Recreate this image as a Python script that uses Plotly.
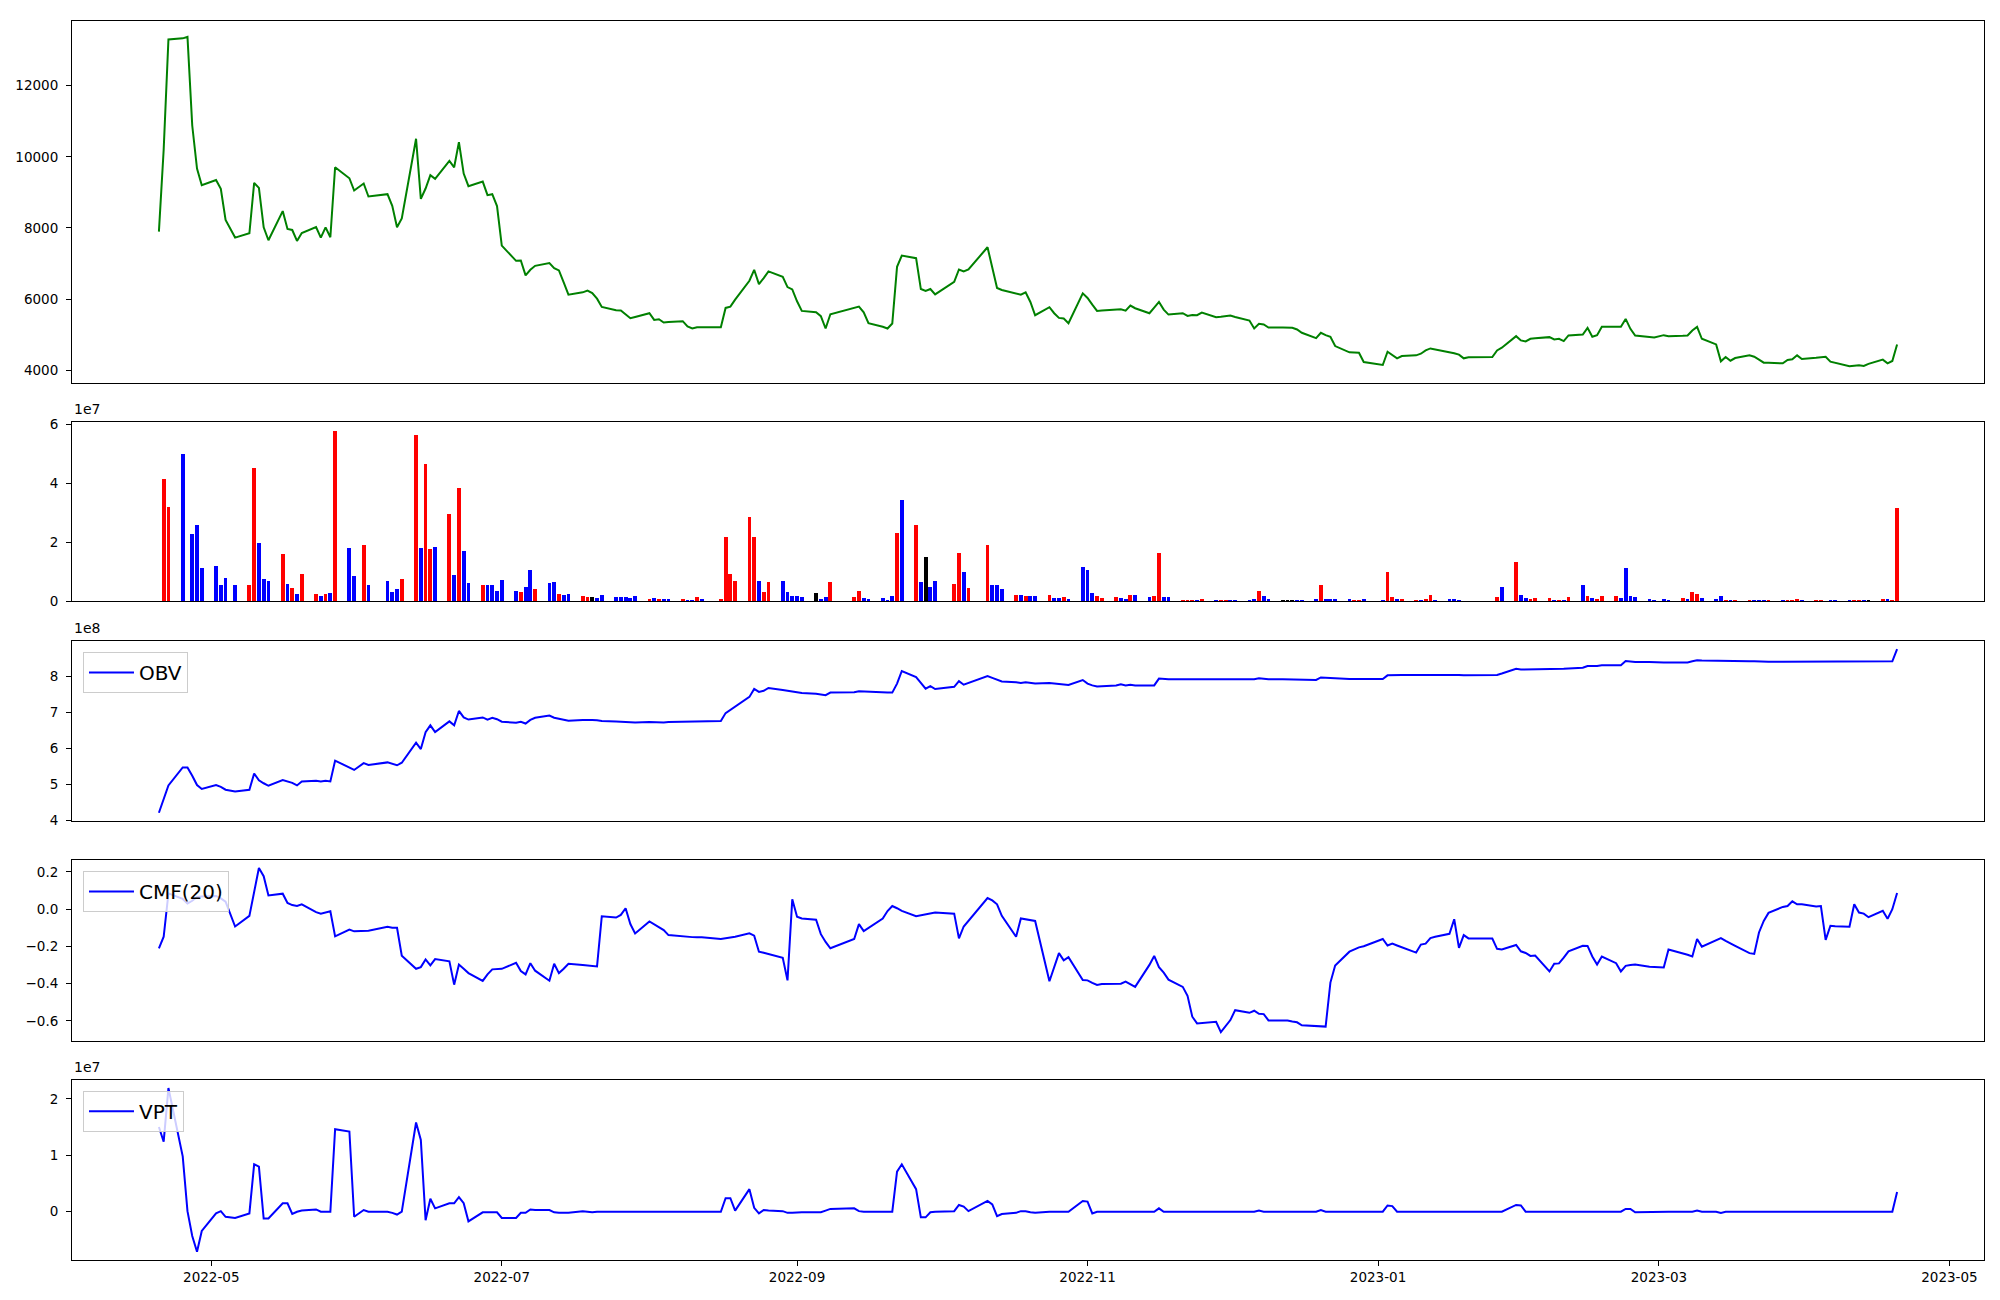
import pandas as pd
import plotly.graph_objects as go
from plotly.subplots import make_subplots

# ---------------- data ----------------
holidays = ["2022-05-05", "2022-06-01", "2022-06-06", "2022-08-15", "2022-09-09", "2022-09-12",
            "2022-10-03", "2022-10-10", "2022-12-30", "2023-01-23", "2023-01-24", "2023-03-01"]
dates = [d for d in pd.bdate_range("2022-04-20", "2023-04-20") if d.strftime("%Y-%m-%d") not in holidays]

close = [
    7897, 10200, 13300, 13330, 13370, 10880, 9670, 9200,
    9350, 9100, 8224, 7730, 7850, 9268, 9128, 8019, 7655, 8475, 7972, 7944, 7636, 7860, 8028, 7730, 8019, 7739, 9706, 9398, 9054,
    9250, 8886, 8951, 8625, 8019, 8270, 10508, 8820, 9110, 9483, 9380, 9884, 9706, 10415, 9529, 9175, 9305, 8923, 8951, 8615,
    7506, 7077, 7086, 6667, 6825, 6937, 7012, 6872, 6806, 6470, 6126, 6191, 6238, 6172, 6014, 5781, 5688, 5679, 5570, 5464, 5500,
    5604, 5417, 5436, 5343, 5360, 5380, 5231, 5175, 5212, 5212, 5212, 5753, 5790, 5986, 6517, 6825, 6424, 6592, 6779, 6629, 6340, 6275,
    5939, 5669, 5632, 5520, 5175, 5576, 5753, 5790, 5632, 5324, 5222, 5175, 5315, 6909, 7226, 7152, 6284, 6228, 6284, 6135,
    6489, 6834, 6779, 6834, 7459, 6890, 6312, 6256, 6144, 6126, 6191, 5921, 5548, 5772, 5604, 5473, 5455, 5324, 6163,
    6033, 5846, 5669, 5678, 5697, 5716, 5678, 5818, 5744, 5604, 5762, 5921, 5706, 5566, 5604, 5529, 5557, 5548, 5622, 5492, 5505, 5520,
    5539, 5500, 5399, 5175, 5306, 5287, 5203, 5200, 5194, 5194, 5147, 5054, 4904, 5054, 4990, 4942, 4681, 4504, 4500, 4494, 4233,
    4149, 4522, 4430, 4336, 4401, 4420, 4466, 4560, 4615, 4590, 4520, 4480, 4440, 4336, 4364, 4373, 4559, 4634, 4960, 4839,
    4811, 4886, 4900, 4932, 4867, 4886, 4820, 4979, 5007, 5194, 4942, 4988, 5221, 5221, 5221, 5445, 5166, 4979, 4940, 4923,
    4988, 4960, 4970, 4979, 5119, 5221, 4886, 4727, 4252, 4373, 4270, 4345, 4420, 4382, 4300, 4214, 4210, 4196, 4289, 4308, 4420, 4317,
    4350, 4370, 4382, 4243, 4214, 4112, 4125, 4140, 4121, 4180, 4299, 4196, 4261, 4727,
]

# volume in units of 1e7
volume_e7 = [
    0, 4.14, 3.18, 4.98, 0, 2.28, 2.58, 1.11,
    1.18, 0.54, 0.78, 0.54, 0.54, 4.51, 1.98, 0.74, 0.68, 1.61, 0.58, 0.44, 0.24, 0.91, 0.24, 0.18, 0.24, 0.28, 5.78, 1.81, 0.84,
    1.91, 0.54, 0.68, 0.31, 0.41, 0.74, 5.64, 1.81, 4.64, 1.78, 1.84, 2.94, 0.88, 3.84, 1.71, 0.61, 0.54, 0.54, 0.54, 0.34,
    0.71, 0.34, 0.31, 0.48, 1.04, 0.41, 0.61, 0.64, 0.24, 0.21, 0.24, 0.18, 0.14, 0.14, 0.11, 0.21, 0.14, 0.14, 0.14, 0.11, 0.18,
    0.08, 0.11, 0.08, 0.08, 0.08, 0.08, 0.04, 0.04, 0.14, 0.08, 0.08, 2.18, 0.91, 0.68, 2.84, 2.18, 0.68, 0.31, 0.64, 0.68, 0.31, 0.18,
    0.18, 0.14, 0.28, 0.08, 0.14, 0.64, 0.14, 0.34, 0.11, 0.08, 0.11, 0.04, 0.18, 2.31, 3.41, 2.58, 0.64, 1.48, 0.48, 0.68,
    0.58, 1.64, 0.98, 0.44, 1.91, 0.54, 0.54, 0.41, 0.21, 0.21, 0.18, 0.18, 0.18, 0.21, 0.11, 0.11, 0.14, 0.08, 1.14,
    1.04, 0.28, 0.18, 0.11, 0.14, 0.11, 0.08, 0.21, 0.21, 0.14, 0.18, 1.64, 0.14, 0.14, 0.04, 0.04, 0.04, 0.04, 0.08, 0.04, 0.04, 0.04,
    0.04, 0.04, 0.04, 0.08, 0.34, 0.18, 0.08, 0.04, 0.04, 0.04, 0.04, 0.04, 0.08, 0.54, 0.08, 0.08, 0.08, 0.08, 0.04, 0.04, 0.08,
    0.04, 0.98, 0.14, 0.08, 0.08, 0.04, 0.04, 0.08, 0.21, 0.04, 0.08, 0.08, 0.04, 0, 0, 0, 0.14, 0.48, 1.31, 0.21,
    0.11, 0.08, 0.11, 0.11, 0.04, 0.04, 0.04, 0.14, 0.54, 0.18, 0.11, 0.08, 0.18, 0.18, 0.11, 1.11, 0.18, 0.14, 0.08, 0.04,
    0.08, 0.04, 0.11, 0.08, 0.31, 0.24, 0.11, 0.08, 0.18, 0.04, 0.04, 0.04, 0.04, 0.04, 0.04, 0.04, 0.04, 0.04, 0.04, 0.04, 0.08, 0.04,
    0.04, 0.04, 0, 0.04, 0.04, 0.04, 0.04, 0.04, 0.04, 0.04, 0.08, 0.08, 0.04, 3.14,
]

# bar direction: u = up, d = down, e = unchanged
volume_dir = (
    "e u u d e d d d "
    "d d d d u u d d d u d u d u u d u d u d d "
    "u d d d d u u d u u d u d u d d u d d d "
    "d d u d d u d d u d d u u e d d d d d d d "
    "u d u d d u d d u d u u u u u u d u u d d d "
    "d d e d d u u u d d d d d u d u d e d d "
    "u u d u u d d d u d u d d u d d u d d "
    "d d u u u d d u d d u u d d u u u d u d u u "
    "d d d d u d d e e e d d d u d d d d u u d "
    "d u u d u u d u u d d d d e e e u d u d "
    "d u u u d u d u d u d u u u d d d d d d "
    "d d u d u u d d d u d u u d d d u d u u u d "
    "u u e d d d u u d e u d u u"
).split()

# on-balance volume in units of 1e8
obv_e8 = [
    4.21, 4.59, 4.97, 5.47, 5.47, 5.24, 4.98, 4.87,
    4.98, 4.93, 4.85, 4.80, 4.85, 5.30, 5.11, 5.03, 4.96, 5.12, 5.08, 5.04, 4.97, 5.08, 5.10, 5.08, 5.10, 5.08, 5.66, 5.48, 5.40,
    5.59, 5.54, 5.61, 5.58, 5.53, 5.60, 6.16, 5.98, 6.45, 6.64, 6.45, 6.75, 6.64, 7.04, 6.86, 6.80, 6.86, 6.80, 6.85, 6.81,
    6.74, 6.71, 6.74, 6.69, 6.79, 6.85, 6.91, 6.85, 6.82, 6.80, 6.77, 6.79, 6.80, 6.79, 6.78, 6.76, 6.75, 6.74, 6.73, 6.72, 6.72,
    6.73, 6.72, 6.73, 6.72, 6.73, 6.74, 6.73, 6.73, 6.75, 6.74, 6.76, 6.98, 7.07, 7.18, 7.43, 7.65, 7.57, 7.60, 7.68, 7.62, 7.60, 7.58,
    7.55, 7.54, 7.52, 7.51, 7.48, 7.55, 7.56, 7.59, 7.58, 7.57, 7.56, 7.55, 7.55, 7.80, 8.15, 7.98, 7.82, 7.66, 7.73, 7.65,
    7.71, 7.87, 7.77, 7.82, 8.01, 7.96, 7.90, 7.86, 7.84, 7.82, 7.84, 7.82, 7.80, 7.82, 7.81, 7.80, 7.79, 7.76, 7.90,
    7.80, 7.75, 7.72, 7.73, 7.75, 7.78, 7.75, 7.77, 7.75, 7.75, 7.75, 7.94, 7.93, 7.92, 7.92, 7.92, 7.92, 7.92, 7.93, 7.92, 7.92, 7.92,
    7.92, 7.92, 7.91, 7.92, 7.95, 7.93, 7.92, 7.92, 7.92, 7.92, 7.91, 7.91, 7.90, 7.97, 7.96, 7.95, 7.94, 7.93, 7.93, 7.93, 7.93,
    7.93, 8.03, 8.04, 8.03, 8.04, 8.04, 8.04, 8.04, 8.06, 8.05, 8.05, 8.04, 8.04, 8.03, 8.03, 8.02, 8.04, 8.08, 8.21, 8.19,
    8.19, 8.20, 8.20, 8.20, 8.20, 8.21, 8.21, 8.22, 8.24, 8.29, 8.28, 8.29, 8.31, 8.31, 8.31, 8.43, 8.41, 8.40, 8.40, 8.39,
    8.39, 8.39, 8.39, 8.39, 8.42, 8.45, 8.44, 8.43, 8.42, 8.42, 8.42, 8.42, 8.42, 8.42, 8.41, 8.41, 8.41, 8.41, 8.41, 8.42, 8.43, 8.43,
    8.43, 8.43, 8.43, 8.42, 8.42, 8.42, 8.42, 8.42, 8.42, 8.42, 8.42, 8.42, 8.42, 8.76,
]

cmf20 = [
    -0.210, -0.148, 0.085, 0.055, 0.030, 0.045, 0.065, 0.068,
    0.071, 0.058, 0.040, -0.093, -0.036, 0.097, 0.221, 0.177, 0.074, 0.083, 0.033, 0.022, 0.017, 0.026, -0.016, -0.024, -0.018, -0.011, -0.146, -0.110, -0.119,
    -0.117, -0.116, -0.095, -0.100, -0.100, -0.250, -0.320, -0.311, -0.270, -0.302, -0.268, -0.280, -0.405, -0.297, -0.320, -0.343, -0.385, -0.350, -0.323, -0.322,
    -0.320, -0.288, -0.332, -0.350, -0.290, -0.330, -0.384, -0.293, -0.343, -0.320, -0.293, -0.300, -0.303, -0.305, -0.307, -0.038, -0.045, -0.031, 0.005, -0.080, -0.130,
    -0.066, -0.080, -0.095, -0.112, -0.139, -0.148, -0.149, -0.150, -0.151, -0.151, -0.160, -0.158, -0.152, -0.148, -0.130, -0.142, -0.228, -0.234, -0.240, -0.261, -0.382, 0.053,
    -0.041, -0.050, -0.057, -0.134, -0.176, -0.210, -0.160, -0.080, -0.118, -0.102, -0.050, -0.010, 0.017, 0.005, -0.009, -0.038, -0.034, -0.029, -0.023, -0.018,
    -0.024, -0.157, -0.093, -0.063, 0.060, 0.047, 0.026, -0.036, -0.148, -0.050, -0.055, -0.060, -0.063, -0.387, -0.311, -0.236, -0.275, -0.258, -0.380,
    -0.382, -0.395, -0.407, -0.402, -0.398, -0.400, -0.389, -0.405, -0.417, -0.299, -0.251, -0.311, -0.341, -0.378, -0.417, -0.465, -0.577, -0.613, -0.610, -0.604, -0.660, -0.625,
    -0.595, -0.542, -0.556, -0.545, -0.561, -0.563, -0.597, -0.598, -0.598, -0.603, -0.607, -0.623, -0.626, -0.628, -0.630, -0.394, -0.302, -0.228, -0.215, -0.205, -0.199,
    -0.160, -0.195, -0.185, -0.195, -0.204, -0.233, -0.190, -0.185, -0.155, -0.148, -0.132, -0.054, -0.208, -0.139, -0.157, -0.158, -0.213, -0.216, -0.192, -0.226,
    -0.235, -0.251, -0.249, -0.334, -0.293, -0.291, -0.260, -0.226, -0.196, -0.197, -0.254, -0.297, -0.254, -0.290, -0.334, -0.304, -0.300, -0.297, -0.309, -0.311,
    -0.313, -0.216, -0.235, -0.245, -0.254, -0.160, -0.201, -0.165, -0.155, -0.170, -0.185, -0.197, -0.236, -0.240, -0.125, -0.063, -0.020, 0.012, 0.017, 0.042, 0.026, 0.026,
    0.014, 0.017, -0.165, -0.089, -0.092, -0.094, 0.026, -0.018, -0.024, -0.043, -0.009, -0.052, 0.000, 0.087,
]

# volume price trend in units of 1e7
vpt_e7 = [
    1.50, 1.24, 2.19, 0.98, 0.01, -0.43, -0.71, -0.34,
    -0.03, 0.01, -0.09, -0.11, -0.03, 0.84, 0.80, -0.12, -0.12, 0.15, 0.15, -0.04, 0.00, 0.02, 0.04, 0.00, 0.00, 0.00, 1.46, 1.42, -0.09,
    0.03, 0.00, 0.00, -0.02, -0.05, 0.00, 1.58, 1.27, -0.15, 0.23, 0.06, 0.15, 0.15, 0.26, 0.15, -0.17, -0.01, -0.01, -0.01, -0.01,
    -0.11, -0.11, -0.02, -0.02, 0.04, 0.03, 0.03, -0.01, -0.02, -0.02, -0.02, 0.01, 0.00, -0.01, 0.00, 0.00, 0.00, 0.00, -0.01, 0.00, 0.00,
    0.00, 0.00, 0.00, 0.00, 0.00, 0.00, 0.00, 0.00, 0.00, 0.00, 0.00, 0.24, 0.24, 0.02, 0.40, 0.07, -0.03, 0.03, 0.02, 0.01, -0.02, -0.02,
    -0.01, -0.01, -0.01, -0.01, 0.02, 0.05, 0.06, 0.01, 0.00, 0.00, 0.00, 0.00, 0.00, 0.71, 0.84, 0.40, -0.10, -0.10, -0.01, 0.00,
    0.01, 0.12, 0.09, 0.01, 0.19, 0.13, -0.08, -0.04, -0.02, 0.01, 0.01, -0.01, -0.02, 0.00, 0.00, 0.00, 0.01, 0.00, 0.19,
    0.18, -0.03, 0.00, 0.00, 0.00, 0.00, 0.00, 0.00, 0.00, 0.00, 0.00, 0.06, 0.00, 0.00, 0.00, 0.00, 0.00, 0.00, 0.00, 0.00, 0.00, 0.00,
    0.00, 0.00, 0.00, 0.00, 0.02, 0.00, 0.00, 0.00, 0.00, 0.00, 0.00, 0.00, 0.00, 0.03, 0.00, 0.00, 0.00, 0.00, 0.00, 0.00, 0.00,
    0.00, 0.11, 0.10, 0.00, 0.00, 0.00, 0.00, 0.00, 0.00, 0.00, 0.00, 0.00, 0.00, 0.00, 0.00, 0.00, 0.00, 0.00, 0.12, 0.11,
    0.00, 0.00, 0.00, 0.00, 0.00, 0.00, 0.00, 0.00, 0.00, 0.00, 0.00, 0.00, 0.00, 0.00, 0.00, 0.05, 0.05, -0.01, 0.00, 0.00,
    0.00, 0.00, 0.00, 0.00, 0.00, 0.02, 0.00, 0.00, -0.02, 0.00, 0.00, 0.00, 0.00, 0.00, 0.00, 0.00, 0.00, 0.00, 0.00, 0.00, 0.00, 0.00,
    0.00, 0.00, 0.00, 0.00, 0.00, 0.00, 0.00, 0.00, 0.00, 0.00, 0.00, 0.00, 0.00, 0.35,
]

x_tick_dates = ["2022-05-01", "2022-07-01", "2022-09-01", "2022-11-01", "2023-01-01", "2023-03-01", "2023-05-01"]
price_ticks = [4000, 6000, 8000, 10000, 12000]
volume_ticks_e7 = [0, 2, 4, 6]
obv_ticks_e8 = [4, 5, 6, 7, 8]
cmf_ticks = [-0.6, -0.4, -0.2, 0.0, 0.2]
vpt_ticks_e7 = [0, 1, 2]

# ---------------- figure ----------------
FONT = "DejaVu Sans"
dir_color = {"u": "#ff0000", "d": "#0000ff", "e": "#000000"}

fig = make_subplots(rows=5, cols=1, shared_xaxes=True)

fig.add_trace(go.Scatter(x=dates, y=close, mode="lines", line=dict(color="#008000", width=2),
                         showlegend=False), row=1, col=1)
fig.add_trace(go.Bar(x=dates, y=[v * 1e7 for v in volume_e7],
                     marker=dict(color=[dir_color[c] for c in volume_dir], line=dict(width=0)),
                     width=0.8 * 86400000, showlegend=False), row=2, col=1)
fig.add_trace(go.Scatter(x=dates, y=[v * 1e8 for v in obv_e8], mode="lines", name="OBV",
                         line=dict(color="#0000ff", width=2), legend="legend"), row=3, col=1)
fig.add_trace(go.Scatter(x=dates, y=cmf20, mode="lines", name="CMF(20)",
                         line=dict(color="#0000ff", width=2), legend="legend2"), row=4, col=1)
fig.add_trace(go.Scatter(x=dates, y=[v * 1e7 for v in vpt_e7], mode="lines", name="VPT",
                         line=dict(color="#0000ff", width=2), legend="legend3"), row=5, col=1)

# page body has an 8px margin: plot area lands at x 70..1984, y 15..1260 in the screenshot
H = 1245.0
W = 1914.0
def dom(top_px, bot_px):
    return [max(0.0, (1260 - bot_px) / H), min(1.0, (1260 - top_px) / H)]

domains = [dom(15, 379), dom(418.3, 598.2), dom(637.8, 818.9), dom(858.4, 1039.5), dom(1079, 1260)]

axis_common = dict(showline=True, linecolor="black", linewidth=1, mirror=True,
                   showgrid=False, zeroline=False,
                   tickfont=dict(family=FONT, size=13.5, color="black"))

def minus(v, fmt):
    return (fmt % v).replace("-", "\u2212")

y_specs = [
    dict(range=[3636, 13818], tickvals=price_ticks, ticktext=[str(v) for v in price_ticks]),
    dict(range=[0, 6.07e7], tickvals=[v * 1e7 for v in volume_ticks_e7], ticktext=[str(v) for v in volume_ticks_e7]),
    dict(range=[3.98e8, 8.99e8], tickvals=[v * 1e8 for v in obv_ticks_e8], ticktext=[str(v) for v in obv_ticks_e8]),
    dict(range=[-0.705, 0.262], tickvals=cmf_ticks, ticktext=[minus(v, "%.1f") for v in cmf_ticks]),
    dict(range=[-0.855e7, 2.335e7], tickvals=[v * 1e7 for v in vpt_ticks_e7], ticktext=[str(v) for v in vpt_ticks_e7]),
]

x_range = ["2022-04-01 18:00", "2023-05-08 06:00"]
for i in range(5):
    yname = "yaxis" if i == 0 else "yaxis%d" % (i + 1)
    xname = "xaxis" if i == 0 else "xaxis%d" % (i + 1)
    fig.layout[yname].update(domain=domains[i], ticks="outside", ticklen=5, tickwidth=1,
                             tickcolor="black", ticklabelstandoff=5, tickmode="array",
                             **axis_common, **y_specs[i])
    if i < 4:
        fig.layout[xname].update(range=x_range, showticklabels=False, ticks="", **axis_common)
    else:
        fig.layout[xname].update(range=x_range, tickmode="array", tickvals=x_tick_dates,
                                 tickformat="%Y-%m", ticks="outside", ticklen=5, tickwidth=1,
                                 tickcolor="black", **axis_common)

legend_style = dict(xref="paper", yref="paper", xanchor="left", yanchor="top",
                    bgcolor="rgba(255,255,255,0.8)", bordercolor="#cccccc", borderwidth=1,
                    itemwidth=45,
                    font=dict(family=FONT, size=20, color="black"))

fig.update_layout(
    width=2000, height=1300,
    margin=dict(l=62, r=24, t=7, b=48),
    plot_bgcolor="white", paper_bgcolor="white",
    font=dict(family=FONT, size=14, color="black"),
    bargap=0,
    legend=dict(x=11 / W, y=(1260 - 649) / H, **legend_style),
    legend2=dict(x=11 / W, y=(1260 - 869) / H, **legend_style),
    legend3=dict(x=11 / W, y=(1260 - 1090) / H, **legend_style),
)

offsets = [("1e7", 418.3), ("1e8", 637.8), ("1e7", 1079)]
for txt, top in offsets:
    fig.add_annotation(text=txt, xref="paper", yref="paper", x=0, y=(1260 - top + 3) / H,
                       xanchor="left", yanchor="bottom", showarrow=False,
                       font=dict(family=FONT, size=14, color="black"))

fig.write_html("out.html")
